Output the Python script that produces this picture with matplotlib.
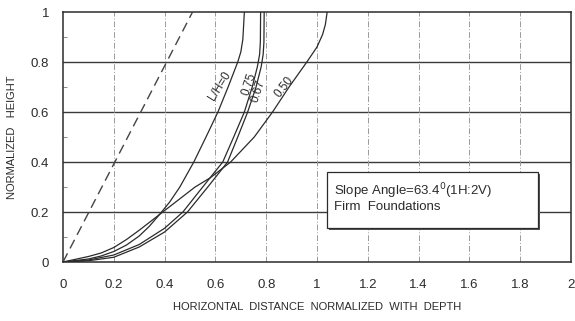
import matplotlib
matplotlib.use('Agg')
import matplotlib.pyplot as plt
from matplotlib.patches import Rectangle

plt.rcParams['font.family'] = ['Liberation Sans', 'DejaVu Sans']

# curves (x = horizontal distance / depth, y = height)
lh0_x = [0, 0.1, 0.15, 0.2, 0.25, 0.3, 0.34, 0.38, 0.42, 0.46, 0.515, 0.563, 0.61, 0.65, 0.688, 0.7, 0.708, 0.714]
lh0_y = [0, 0.012, 0.024, 0.042, 0.068, 0.104, 0.143, 0.19, 0.24, 0.3, 0.4, 0.5, 0.6, 0.7, 0.8, 0.84, 0.89, 1.0]

lh050_x = [0, 0.1, 0.15, 0.2, 0.25, 0.3, 0.38, 0.45, 0.52, 0.58, 0.66, 0.753, 0.825, 0.89, 0.96, 1.0, 1.022, 1.033, 1.04]
lh050_y = [0, 0.022, 0.036, 0.058, 0.09, 0.127, 0.19, 0.245, 0.3, 0.337, 0.4, 0.5, 0.6, 0.7, 0.8, 0.86, 0.91, 0.95, 1.0]

lh075_x = [0, 0.1, 0.2, 0.3, 0.4, 0.472, 0.55, 0.629, 0.672, 0.714, 0.745, 0.765, 0.774, 0.777, 0.778]
lh075_y = [0, 0.008, 0.028, 0.07, 0.135, 0.2, 0.3, 0.4, 0.5, 0.6, 0.7, 0.78, 0.83, 0.88, 1.0]

lh067_x = [0, 0.1, 0.2, 0.3, 0.4, 0.49, 0.57, 0.648, 0.688, 0.727, 0.76, 0.78, 0.788, 0.791, 0.792]
lh067_y = [0, 0.005, 0.019, 0.06, 0.12, 0.2, 0.3, 0.4, 0.5, 0.6, 0.7, 0.78, 0.83, 0.88, 1.0]

slope_x = [0, 0.51]
slope_y = [0, 1.0]

x_ticks = [0, 0.2, 0.4, 0.6, 0.8, 1, 1.2, 1.4, 1.6, 1.8, 2]
x_tick_labels = ['0', '0.2', '0.4', '0.6', '0.8', '1', '1.2', '1.4', '1.6', '1.8', '2']
y_ticks = [0, 0.2, 0.4, 0.6, 0.8, 1]
y_tick_labels = ['0', '0.2', '0.4', '0.6', '0.8', '1']

fig = plt.figure(figsize=(5.75, 3.21), dpi=100)
ax = fig.add_axes([0.1096, 0.1838, 0.8834, 0.7788])
ax.set_xlim(0, 2)
ax.set_ylim(0, 1)

ink = '#2b2b2b'

# grid: solid horizontals, dashed light verticals
for yv in y_ticks[1:-1]:
    ax.axhline(yv, color='#3a3a3a', lw=1.0, zorder=1)
for xv in x_ticks[1:-1]:
    ax.axvline(xv, color='#9a9a9a', lw=0.7, ls=(0, (6, 2, 1, 2)), zorder=1)

ax.plot(slope_x, slope_y, color='#444444', lw=1.0, ls=(0, (7, 4)), zorder=3)
for xs, ys in [(lh0_x, lh0_y), (lh050_x, lh050_y), (lh075_x, lh075_y), (lh067_x, lh067_y)]:
    ax.plot(xs, ys, color=ink, lw=0.9, zorder=3)

lab = dict(fontsize=8.5, color=ink, ha='center', va='center', zorder=4)
ax.text(0.618, 0.705, 'L/H=0', rotation=58, **lab)
ax.text(0.733, 0.71, '0.75', rotation=72, **lab)
ax.text(0.768, 0.685, '0.67', rotation=72, **lab)
ax.text(0.87, 0.70, '0.50', rotation=52, **lab)

# boxed note with drop shadow
ax.add_patch(Rectangle((1.048, 0.129), 0.83, 0.225, facecolor='#555555', edgecolor='none', zorder=5))
ax.add_patch(Rectangle((1.04, 0.136), 0.83, 0.225, facecolor='white', edgecolor=ink, lw=0.9, zorder=6))
ax.text(1.065, 0.285, 'Slope Angle=63.4$^{\\mathrm{0}}$(1H:2V)', fontsize=9.5, color=ink, va='center', zorder=7)
ax.text(1.065, 0.22, 'Firm  Foundations', fontsize=9.5, color=ink, va='center', zorder=7)

ax.set_xticks(x_ticks)
ax.set_xticklabels(x_tick_labels)
ax.set_yticks(y_ticks)
ax.set_yticklabels(y_tick_labels)
ax.set_yticks([0.1, 0.3, 0.5, 0.7, 0.9], minor=True)
ax.tick_params(axis='x', which='major', length=0, labelsize=9.5, colors=ink, pad=12)
ax.tick_params(axis='y', which='major', length=0, labelsize=9.5, colors=ink, pad=10)
ax.tick_params(axis='y', which='minor', length=3, direction='in', color='#777777')

for s in ax.spines.values():
    s.set_color(ink)
    s.set_linewidth(1.1)

ax.set_xlabel('HORIZONTAL  DISTANCE  NORMALIZED  WITH  DEPTH', fontsize=8, color=ink, labelpad=8)
ax.set_ylabel('NORMALIZED   HEIGHT', fontsize=8, color=ink, labelpad=10)

fig.savefig('out.png', dpi=100)
